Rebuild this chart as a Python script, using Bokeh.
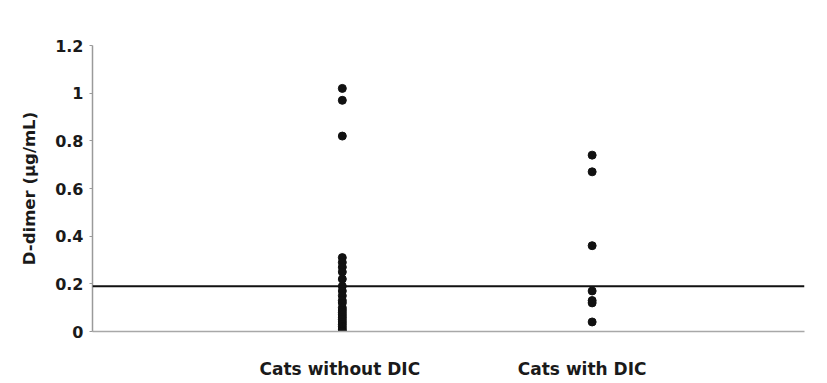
from bokeh.plotting import figure
from bokeh.models import Range1d, FixedTicker, Span
from bokeh.embed import file_html
from bokeh.resources import INLINE

# ---- data ----
categories = ["Cats without DIC", "Cats with DIC"]
without_dic = [1.02, 0.97, 0.82, 0.31, 0.29, 0.27, 0.25, 0.22, 0.19, 0.17,
               0.15, 0.13, 0.12, 0.10, 0.09, 0.08, 0.07, 0.06, 0.05, 0.04,
               0.03, 0.02, 0.01, 0.0, 0.0]
with_dic = [0.74, 0.67, 0.36, 0.17, 0.13, 0.12, 0.04]
cutoff = 0.19
y_ticks = [0, 0.2, 0.4, 0.6, 0.8, 1, 1.2]
y_tick_labels = ["0", "0.2", "0.4", "0.6", "0.8", "1", "1.2"]
y_label = "D-dimer (µg/mL)"

FONT = "DejaVu Sans"
TXT = "#1a1a1a"

p = figure(width=827, height=383, output_backend="svg", toolbar_location=None,
           x_range=Range1d(0, 2.85), y_range=Range1d(0, 1.2),
           min_border_left=92, min_border_right=23, min_border_top=45,
           min_border_bottom=52)
p.outline_line_color = None
p.xgrid.visible = False
p.ygrid.visible = False
p.background_fill_color = "white"
p.border_fill_color = "white"

# threshold line
p.add_layout(Span(location=cutoff, dimension="width", line_color="#111111",
                  line_width=2))

groups = [without_dic, with_dic]
for i, vals in enumerate(groups):
    p.scatter(x=[i + 1] * len(vals), y=vals, marker="circle", size=8,
              fill_color="#111111", line_color="#111111")

# y axis
ya = p.yaxis[0]
ya.ticker = FixedTicker(ticks=y_ticks)
ya.major_label_overrides = {t: l for t, l in zip(y_ticks, y_tick_labels)}
ya.axis_line_color = "#9a9a9a"
ya.axis_line_width = 1.5
ya.major_tick_line_color = "#9a9a9a"
ya.major_tick_in = 0
ya.major_tick_out = 3
ya.minor_tick_line_color = None
ya.major_label_text_font = FONT
ya.major_label_text_font_style = "bold"
ya.major_label_text_font_size = "16px"
ya.major_label_text_color = TXT
ya.major_label_standoff = 6
ya.axis_label = y_label
ya.axis_label_text_font = FONT
ya.axis_label_text_font_style = "bold"
ya.axis_label_text_font_size = "16.5px"
ya.axis_label_text_color = TXT
ya.axis_label_standoff = 13

# x axis with category labels
label_shift = [-0.01, -0.04]
label_x = [i + 1 + label_shift[i] for i in range(len(categories))]
xa = p.xaxis[0]
xa.ticker = FixedTicker(ticks=label_x)
xa.major_label_overrides = {x: c for x, c in zip(label_x, categories)}
xa.axis_line_color = "#a8a8a8"
xa.axis_line_width = 1.5
xa.major_tick_line_color = None
xa.minor_tick_line_color = None
xa.major_label_text_font = FONT
xa.major_label_text_font_style = "bold"
xa.major_label_text_font_size = "17px"
xa.major_label_text_color = TXT
xa.major_label_standoff = 21

open("out.html", "w").write(file_html(p, INLINE))
